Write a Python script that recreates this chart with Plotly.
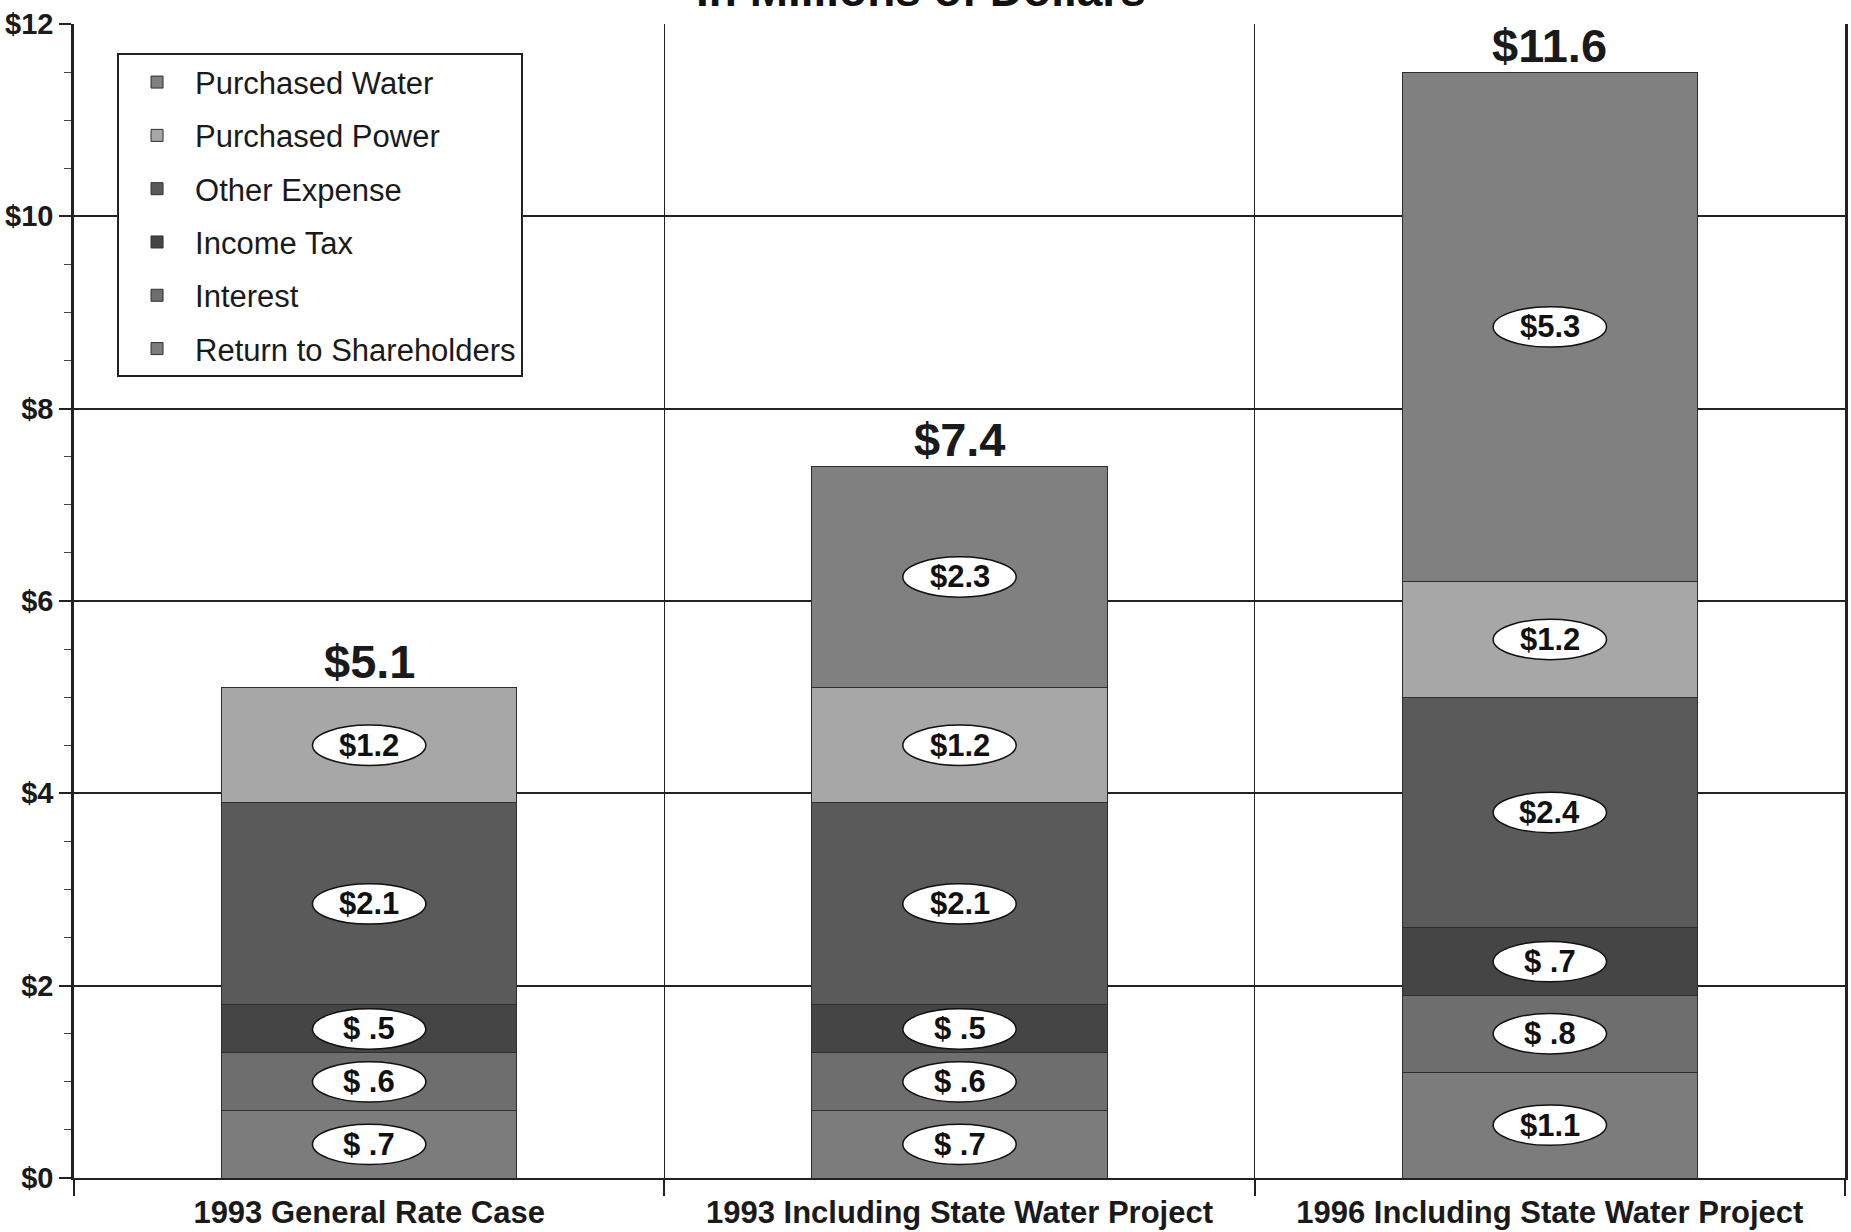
import plotly.graph_objects as go

# ---- data ----
categories = ["1993 General Rate Case",
              "1993 Including State Water Project",
              "1996 Including State Water Project"]
# stack order bottom -> top
series_names = ["Return to Shareholders", "Interest", "Income Tax",
                "Other Expense", "Purchased Power", "Purchased Water"]
return_to_shareholders = [0.7, 0.7, 1.1]
interest = [0.6, 0.6, 0.8]
income_tax = [0.5, 0.5, 0.7]
other_expense = [2.1, 2.1, 2.4]
purchased_power = [1.2, 1.2, 1.2]
purchased_water = [0.0, 2.3, 5.3]
totals_label = [5.1, 7.4, 11.6]
y_ticks = [0, 2, 4, 6, 8, 10, 12]

series_values = [return_to_shareholders, interest, income_tax,
                 other_expense, purchased_power, purchased_water]
series_colors = ["#7c7c7c", "#6e6e6e", "#454545", "#5a5a5a", "#a7a7a7", "#808080"]

FONT = "Liberation Sans, Arial, Helvetica, sans-serif"


def fmt(v):
    s = f"${v:.1f}"
    if v < 1:
        s = s.replace("$0", "$ ")
    return s


fig = go.Figure()
n = len(series_names)
for i, (name, vals, col) in enumerate(zip(series_names, series_values, series_colors)):
    fig.add_trace(go.Bar(
        x=categories, y=vals, name=name, legendgroup=name, legendrank=n - i,
        marker=dict(color=col, line=dict(color="#2e2e2e", width=1)),
        width=0.5, hoverinfo="skip",
    ))

# labels in ellipses at segment middles
ell_hw = 0.096
ell_hh = 0.21
for ci, cat in enumerate(categories):
    base = 0.0
    for vals in series_values:
        v = vals[ci]
        if v > 0:
            mid = base + v / 2
            fig.add_shape(type="circle", xref="x", yref="y",
                          x0=ci - ell_hw, x1=ci + ell_hw,
                          y0=mid - ell_hh, y1=mid + ell_hh,
                          fillcolor="white", line=dict(color="#111", width=1.5),
                          layer="above")
            fig.add_annotation(x=cat, y=mid, text=fmt(v), showarrow=False,
                               font=dict(family=FONT, size=31, color="#111", weight="bold"))
        base += v
    fig.add_annotation(x=cat, y=base, text=f"${totals_label[ci]}", showarrow=False,
                       yanchor="bottom", yshift=-2,
                       font=dict(family=FONT, size=47, color="#1a1a1a", weight="bold"))

# partially visible title at the very top
fig.add_annotation(xref="paper", yref="paper", x=0.478, y=1, yanchor="bottom", yshift=6,
                   text="In Millions of Dollars", showarrow=False,
                   font=dict(family=FONT, size=46, color="#111", weight="bold"))

fig.update_layout(
    width=1851, height=1232,
    barmode="stack",
    paper_bgcolor="white", plot_bgcolor="white",
    margin=dict(l=74, r=6, t=24, b=54, autoexpand=False),
    showlegend=True,
    legend=dict(
        x=0.0243, y=0.9745, xanchor="left", yanchor="top",
        traceorder="grouped", tracegroupgap=10, itemwidth=66,
        bgcolor="white", bordercolor="#222", borderwidth=2,
        font=dict(family=FONT, size=31, color="#1a1a1a"),
    ),
    xaxis=dict(
        type="category", range=[-0.5, 2.5],
        tickson="boundaries", ticks="outside", ticklen=16, tickwidth=1.5, tickcolor="#222",
        showgrid=True, gridcolor="#222", gridwidth=1.2,
        showline=True, linecolor="#222", linewidth=2,
        tickfont=dict(family=FONT, size=31, color="#1a1a1a", weight="bold"),
        ticklabelstandoff=6,
        automargin=False,
    ),
    yaxis=dict(
        range=[0, 12], tickvals=y_ticks, ticktext=[f"${t}" for t in y_ticks],
        ticks="outside", ticklen=12, tickwidth=1.5, tickcolor="#222",
        showgrid=True, gridcolor="#222", gridwidth=1.5,
        showline=True, linecolor="#222", linewidth=2.5, mirror=True,
        zeroline=False,
        minor=dict(dtick=0.5, ticks="outside", ticklen=7, tickcolor="#444", tickwidth=1, showgrid=False),
        tickfont=dict(family=FONT, size=29, color="#1a1a1a", weight="bold"),
        automargin=False,
    ),
)

fig.write_html("out.html", config={"displayModeBar": False},
               post_script="document.body.style.margin='0';")
